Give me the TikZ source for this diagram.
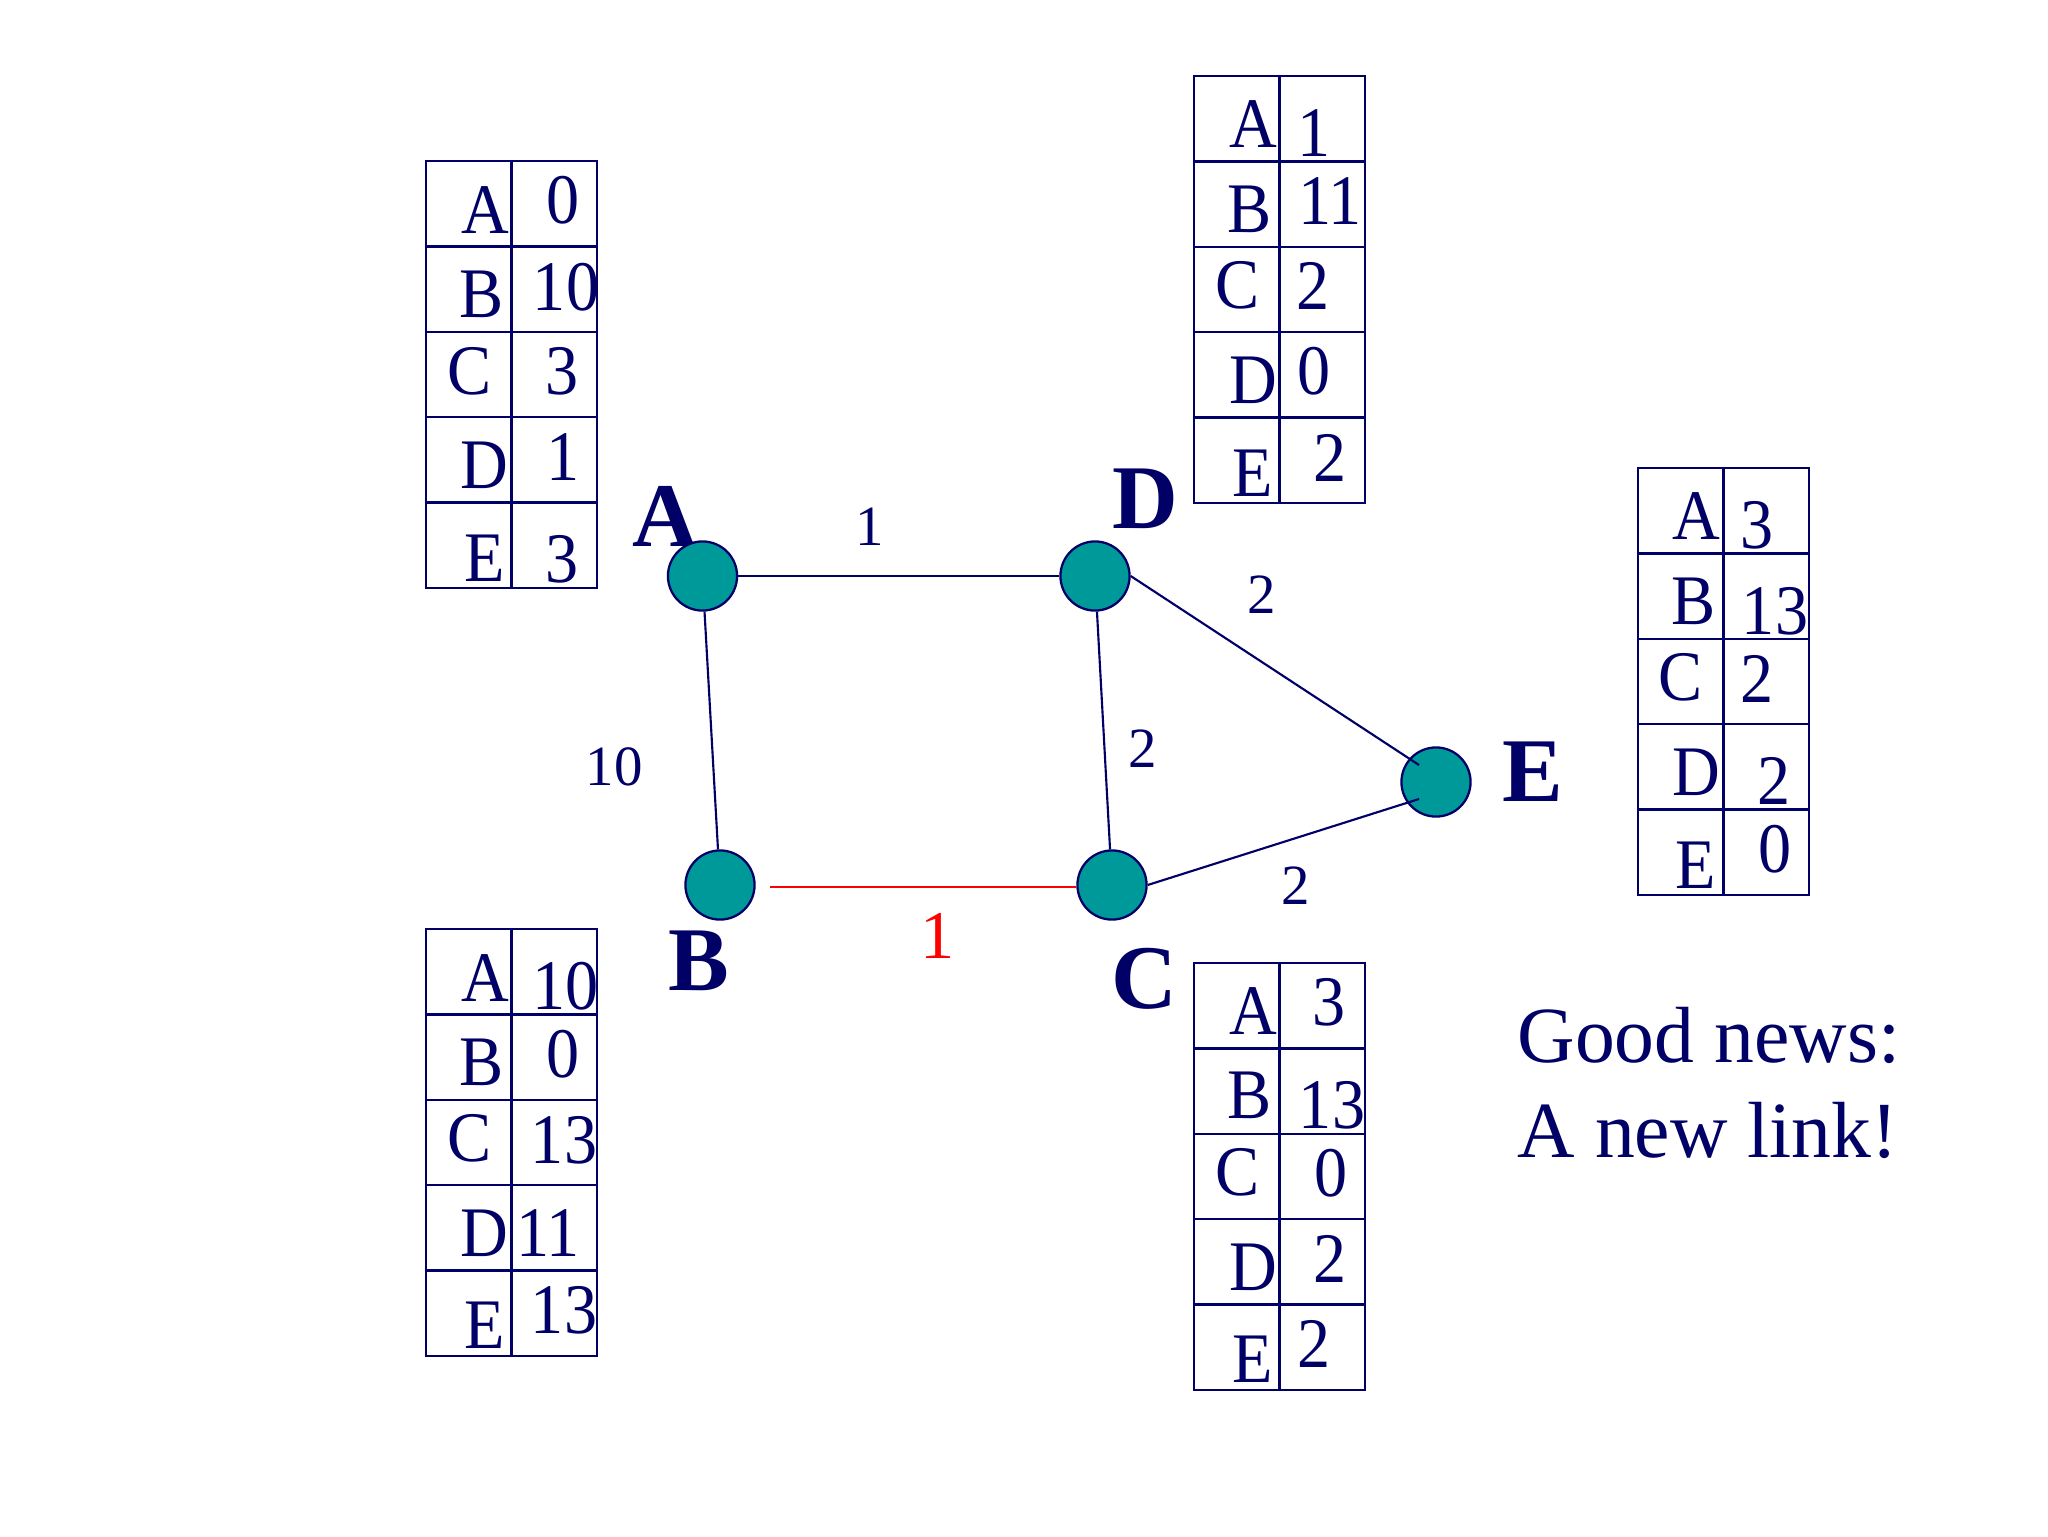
\documentclass[tikz,border=0pt]{standalone}
\usepackage{fontspec}
\usepackage{graphicx}
\setmainfont{Liberation Serif}
\definecolor{navy}{RGB}{0,0,102}
\definecolor{nodeteal}{RGB}{0,153,153}
\definecolor{linkred}{RGB}{255,0,0}
\newcommand{\tablegrid}[2]{%
  \draw[tbl] (#1,#2) rectangle ++(171,427);
  \draw[tbl] (#1+85.5,#2) -- ++(0,427);
  \foreach \r in {1,2,3,4}{\draw[tbl] (#1,#2+85.4*\r) -- ++(171,0);}%
}
\newcommand{\ct}[1]{\scalebox{0.93}[1]{#1}}
\begin{document}
\begin{tikzpicture}[x=0.3516pt,y=-0.3516pt,
  tbl/.style={draw=navy, line width=0.85pt},
  cell/.style={anchor=base, inner sep=0pt, text=navy, font=\fontsize{25}{30}\selectfont},
  vtx/.style={circle, draw=navy, line width=0.8pt, fill=nodeteal, minimum size=24.3pt, inner sep=0pt},
  nlabel/.style={anchor=base, inner sep=0pt, text=navy, font=\fontsize{32}{38}\selectfont\bfseries},
  wlabel/.style={anchor=base, inner sep=0pt, text=navy, font=\fontsize{20}{24}\selectfont},
  edge/.style={draw=navy, line width=0.75pt},
  newedge/.style={draw=linkred, line width=0.75pt},
  note/.style={anchor=base west, inner sep=0pt, text=navy, font=\fontsize{28}{34}\selectfont}]
\fill[white] (0,0) rectangle (2048,1536);
\useasboundingbox (0,0) rectangle (2048,1536);

% tables
\tablegrid{426}{161}
\tablegrid{1194}{76}
\tablegrid{426}{929}
\tablegrid{1194}{963}
\tablegrid{1638}{468}

% table A
\node[cell] (taA) at (485,233) {\ct{A}};   \node[cell] (taAv) at (563,223) {\ct{0}};
\node[cell] (taB) at (482,317) {\ct{B}};   \node[cell] (taBv) at (566,310) {\ct{10}};
\node[cell] (taC) at (470,394) {\ct{C}};   \node[cell] (taCv) at (562,394) {\ct{3}};
\node[cell] (taD) at (484.5,488) {\ct{D}}; \node[cell] (taDv) at (563,480) {\ct{1}};
\node[cell] (taE) at (484.5,581) {\ct{E}}; \node[cell] (taEv) at (562,582) {\ct{3}};
% table D
\node[cell] (tdA) at (1253,147) {\ct{A}};   \node[cell] (tdAv) at (1314,156) {\ct{1}};
\node[cell] (tdB) at (1250,232) {\ct{B}};   \node[cell] (tdBv) at (1330,224) {\ct{11}};
\node[cell] (tdC) at (1238,308) {\ct{C}};   \node[cell] (tdCv) at (1313,309) {\ct{2}};
\node[cell] (tdD) at (1253,403) {\ct{D}};   \node[cell] (tdDv) at (1314,394) {\ct{0}};
\node[cell] (tdE) at (1252.5,496) {\ct{E}}; \node[cell] (tdEv) at (1330,481) {\ct{2}};
% table B
\node[cell] (tbA) at (485.5,1001) {\ct{A}}; \node[cell] (tbAv) at (565.5,1009) {\ct{10}};
\node[cell] (tbB) at (482,1085) {\ct{B}};   \node[cell] (tbBv) at (563,1077) {\ct{0}};
\node[cell] (tbC) at (470,1161) {\ct{C}};   \node[cell] (tbCv) at (564,1163) {\ct{13}};
\node[cell] (tbD) at (484.5,1256) {\ct{D}}; \node[cell] (tbDv) at (548,1256) {\ct{11}};
\node[cell] (tbE) at (484.5,1348) {\ct{E}}; \node[cell] (tbEv) at (564,1333) {\ct{13}};
% table C
\node[cell] (tcA) at (1253,1034) {\ct{A}};   \node[cell] (tcAv) at (1329,1025) {\ct{3}};
\node[cell] (tcB) at (1250,1118) {\ct{B}};   \node[cell] (tcBv) at (1332,1128) {\ct{13}};
\node[cell] (tcC) at (1238,1195) {\ct{C}};   \node[cell] (tcCv) at (1331,1196) {\ct{0}};
\node[cell] (tcD) at (1253,1290) {\ct{D}};   \node[cell] (tcDv) at (1330.5,1282) {\ct{2}};
\node[cell] (tcE) at (1252.5,1382) {\ct{E}}; \node[cell] (tcEv) at (1314,1367) {\ct{2}};
% table E
\node[cell] (teA) at (1696,539) {\ct{A}};   \node[cell] (teAv) at (1757,548) {\ct{3}};
\node[cell] (teB) at (1694,624) {\ct{B}};   \node[cell] (teBv) at (1775,634) {\ct{13}};
\node[cell] (teC) at (1681,700) {\ct{C}};   \node[cell] (teCv) at (1757,702) {\ct{2}};
\node[cell] (teD) at (1696.5,795) {\ct{D}}; \node[cell] (teDv) at (1774,804) {\ct{2}};
\node[cell] (teE) at (1696,888) {\ct{E}};   \node[cell] (teEv) at (1775,872) {\ct{0}};

% vertex labels
\node[nlabel] (lA) at (665,546) {A};
\node[nlabel] (lD) at (1145,528) {D};
\node[nlabel] (lB) at (699,990) {B};
\node[nlabel] (lC) at (1144,1008) {C};
\node[nlabel] (lE) at (1533,801) {E};

% vertices
\node[vtx] (A) at (702.5,576) {};
\node[vtx] (D) at (1095,576) {};
\node[vtx] (E) at (1436,782) {};
\node[vtx] (C) at (1112,885) {};
\node[vtx] (B) at (720,885) {};
\coordinate (eD) at (1419,765);
\coordinate (eC) at (1419,799);

% edges
\draw[edge] (A) -- (D);
\draw[edge] (A) -- (B);
\draw[edge] (D) -- (C);
\draw[edge] (D.east) -- (eD);
\draw[edge] (C.east) -- (eC);
\draw[newedge] ([xshift=4.9pt,yshift=-0.7pt]B.east) -- ([yshift=-0.7pt]C.west);

% edge weights
\node[wlabel] (wAD) at (870,545) {1};
\node[wlabel] (wAB) at (614,785) {10};
\node[wlabel] (wDE) at (1262,613) {2};
\node[wlabel] (wDC) at (1143,767) {2};
\node[wlabel] (wCE) at (1296,904) {2};
\node[anchor=base, inner sep=0pt, text=linkred, font=\fontsize{24}{28}\selectfont] (wBC) at (938,958) {1};

% note
\node[note] (n1) at (1517,1062) {Good news:};
\node[note] (n2) at (1517,1157) {A new link!};
\end{tikzpicture}
\end{document}
